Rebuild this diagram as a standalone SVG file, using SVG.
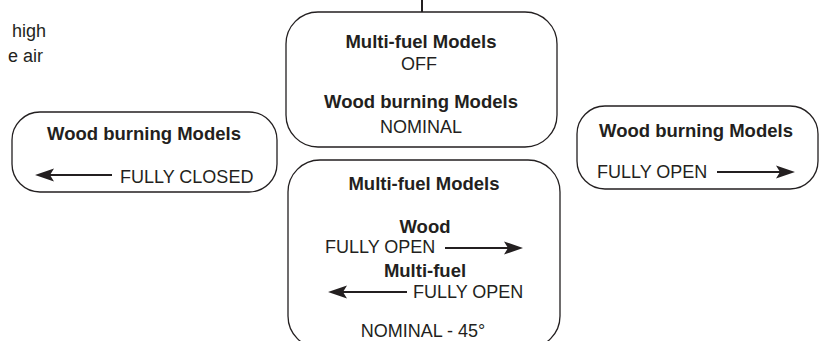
<svg xmlns="http://www.w3.org/2000/svg" width="824" height="341" viewBox="0 0 824 341">
<defs>
<style>
.box{fill:#fff;stroke:#231f20;stroke-width:1.3}
.b{font-family:"Liberation Sans",Arial,sans-serif;font-weight:bold;font-size:18.5px;fill:#231f20;text-anchor:middle}
.r{font-family:"Liberation Sans",Arial,sans-serif;font-size:18px;fill:#231f20}
.ln{stroke:#231f20;stroke-width:2;fill:none}
.ah{fill:#231f20}
</style>
</defs>
<rect width="824" height="341" fill="#fff"/>
<g id="connectors">
<line class="ln" x1="422" y1="0" x2="422" y2="12"/>
</g>
<g id="side-text">
<text class="r" x="46" y="37" text-anchor="end">high</text>
<text class="r" x="43" y="62" text-anchor="end">e air</text>
</g>
<g id="top-box">
<rect class="box" x="286" y="12" width="271" height="135" rx="32" ry="32"/>
<text class="b" x="421" y="48">Multi-fuel Models</text>
<text class="r" x="419" y="70" text-anchor="middle">OFF</text>
<text class="b" x="421" y="108">Wood burning Models</text>
<text class="r" x="421" y="133" text-anchor="middle">NOMINAL</text>
</g>
<g id="left-box">
<rect class="box" x="12" y="112" width="265" height="80" rx="28" ry="28"/>
<text class="b" x="144" y="140">Wood burning Models</text>
<line class="ln" x1="50" y1="175" x2="112" y2="175"/>
<path class="ah" d="M35,175 L54,168.5 L50,175 L54,181.5 Z"/>
<text class="r" x="120" y="183">FULLY CLOSED</text>
</g>
<g id="right-box">
<rect class="box" x="577" y="106" width="241" height="83" rx="28" ry="28"/>
<text class="b" x="696" y="137">Wood burning Models</text>
<text class="r" x="597" y="178">FULLY OPEN</text>
<line class="ln" x1="717" y1="172" x2="780" y2="172"/>
<path class="ah" d="M795,172 L776,165.5 L780,172 L776,178.5 Z"/>
</g>
<g id="bottom-box">
<rect class="box" x="288" y="160" width="272" height="188" rx="32" ry="32"/>
<text class="b" x="424" y="190">Multi-fuel Models</text>
<text class="b" x="425" y="233">Wood</text>
<text class="r" x="325" y="253">FULLY OPEN</text>
<line class="ln" x1="445" y1="248" x2="508" y2="248"/>
<path class="ah" d="M523,248 L504,241.5 L508,248 L504,254.5 Z"/>
<text class="b" x="425" y="277">Multi-fuel</text>
<line class="ln" x1="343" y1="292" x2="407" y2="292"/>
<path class="ah" d="M328,292 L347,285.5 L343,292 L347,298.5 Z"/>
<text class="r" x="413" y="298">FULLY OPEN</text>
<text class="r" x="423" y="337" text-anchor="middle">NOMINAL - 45°</text>
</g>
</svg>
